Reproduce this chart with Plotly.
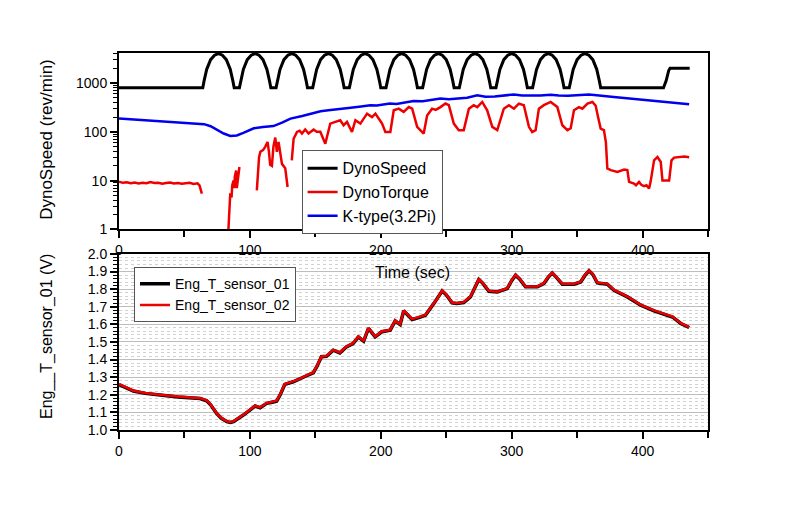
import plotly.graph_objects as go

# ---------------- data ----------------
speed_t = [0,
           64, 65, 67, 70, 73, 76, 79, 82, 85, 87, 88,
           92, 93, 95, 98, 101, 104, 107, 110, 113, 115, 116,
           120, 121, 123, 126, 129, 132, 135, 138, 141, 143, 144,
           148, 149, 151, 154, 157, 160, 163, 166, 169, 171, 172,
           176, 177, 179, 182, 185, 188, 191, 194, 197, 199, 200,
           204, 205, 207, 210, 213, 216, 219, 222, 225, 227, 228,
           232, 233, 235, 238, 241, 244, 247, 250, 253, 255, 256,
           260, 261, 263, 266, 269, 272, 275, 278, 281, 283, 284,
           288, 289, 291, 294, 297, 300, 303, 306, 309, 311, 312,
           316, 317, 319, 322, 325, 328, 331, 334, 337, 339, 340,
           344, 345, 347, 350, 353, 356, 359, 362, 365, 367, 368,
           416, 418, 420, 421, 436]
speed_v = [800,
           800, 1100, 1900, 3000, 3700, 4000, 3700, 3000, 1900, 1100, 800,
           800, 1100, 1900, 3000, 3700, 4000, 3700, 3000, 1900, 1100, 800,
           800, 1100, 1900, 3000, 3700, 4000, 3700, 3000, 1900, 1100, 800,
           800, 1100, 1900, 3000, 3700, 4000, 3700, 3000, 1900, 1100, 800,
           800, 1100, 1900, 3000, 3700, 4000, 3700, 3000, 1900, 1100, 800,
           800, 1100, 1900, 3000, 3700, 4000, 3700, 3000, 1900, 1100, 800,
           800, 1100, 1900, 3000, 3700, 4000, 3700, 3000, 1900, 1100, 800,
           800, 1100, 1900, 3000, 3700, 4000, 3700, 3000, 1900, 1100, 800,
           800, 1100, 1900, 3000, 3700, 4000, 3700, 3000, 1900, 1100, 800,
           800, 1100, 1900, 3000, 3700, 4000, 3700, 3000, 1900, 1100, 800,
           800, 1100, 1900, 3000, 3700, 4000, 3700, 3000, 1900, 1100, 800,
           800, 1100, 1800, 2000, 2000]

torque_t = [0, 3, 6, 9, 12, 15, 18, 21, 24, 27, 30, 33, 36, 39, 42, 45, 48, 51,
            54, 57, 60, 61.5, 62.5, 63.3, 64,
            83.6, 84.5, 85, 86, 86.5, 87.5, 88, 88.5, 89.5, 90, 91, 92, 93,
            105.3, 106, 107, 108, 110, 111.7, 113.5, 114.5, 115.5, 116.8, 118,
            119.4, 120.6, 121.9, 123, 124.5, 127, 128, 128.8, 130,
            132, 133.4, 136, 138, 139.8, 142.3, 144.8, 148.7, 151, 153.8, 157.6,
            161.4, 165.3, 169, 171.6, 174.2, 178, 180.6, 184.4, 187, 189.5,
            193.3, 195.9, 198.4, 201, 203.5, 207.3, 209.9, 213.7, 217.5, 221.4,
            224, 227.8, 232.8, 235.4, 239.2, 242, 245.6, 249.4, 252, 255.8,
            259.6, 263.4, 267.3, 271, 273.7, 277.5, 281.3, 285.2, 289, 291.5,
            294, 297.9, 301.7, 305.5, 309.3, 313.2, 315.7, 318.3, 320.8, 324.6,
            329.8, 334.9, 338.7, 342.6, 345.1, 347.6, 351.4, 354, 357.9, 361.7,
            364.2, 366, 368, 370.5, 372, 373.1, 375.7, 380.8, 385.9, 388.4,
            389.7, 393.5, 395, 397.3, 399, 401.2, 403, 405, 406.3, 408.8, 411.4,
            413.9, 415.2, 420.3, 422.1, 424.1, 429.2, 432, 435.6]
torque_v = [9.5, 9.0, 9.2, 8.8, 9.1, 8.7, 9.0, 8.8, 9.3, 8.9, 9.0, 8.6, 8.9, 9.1,
            8.7, 8.9, 8.6, 8.8, 9.0, 8.5, 8.8, 8.0, 6.5, 5.4, None,
            1.0, 2.5, 5.5, 4.5, 8, 10, 7, 12, 16, 7, 14, 19, None,
            6.3, 15, 30, 39, 42, 49, 62, 40, 21, 20, 50,
            76, 39, 62, 40, 22, 18, 12, 7.4, None,
            26, 72, 99, 105, 92, 111, 92, 111, 100, 100, 57,
            147, 159, 172, 136, 159, 99, 172, 147, 187, 235,
            200, 235, 187, 147, 99, 99, 275, 297, 255, 320,
            297, 126, 92, 216, 297, 280, 320, 378, 350, 147,
            108, 108, 297, 350, 320, 408, 275, 126, 108, 172,
            297, 350, 297, 378, 350, 126, 99, 108, 297, 350,
            408, 320, 136, 108, 118, 275, 320, 297, 378, 408,
            340, 200, 116, 108, 60, 17.7, 16.4, 15, 16.8, 16.4,
            9.4, 8.7, 8.0, 9.4, 8.2, 7.7, 8.0, 6.9, 10, 26, 30.5,
            24, 10, 10, 26, 29.6, 30, 31, 30]

ktype_t = [0, 10, 20, 30, 40, 50, 60, 65, 70, 75, 80, 85, 90, 95, 100, 103, 110,
           118, 125, 131, 140, 148, 154, 160, 166, 172, 177, 185, 192, 197, 202,
           207, 212, 218, 225, 232, 238, 245.6, 252, 260, 266, 273.7, 280, 287,
           294, 301.7, 308, 315, 322, 329.8, 336, 343, 350, 359, 365, 372, 378,
           390, 403.7, 415, 425, 435.6]
ktype_v = [186, 178, 170, 163, 157, 152, 147, 143, 130, 110, 92, 82, 84, 95, 108,
           118, 125, 131, 155, 186, 210, 235, 264, 275, 290, 300, 311, 330, 350,
           345, 365, 377, 370, 400, 427, 420, 445, 478, 465, 480, 500, 560, 520,
           530, 545, 580, 550, 545, 555, 574, 550, 545, 560, 580, 560, 545, 517,
           480, 440, 410, 390, 365]

sensor_t = [0, 5, 11, 20, 28, 36.5, 45, 52, 62, 67, 70, 74.6, 78, 82.4, 85, 87.5,
            91, 95, 100, 104, 107.8, 112.8, 117, 120.4, 123, 126.7, 133.1, 138,
            143.3, 148.4, 151, 154.7, 158.5, 163.7, 168.7, 173.7, 178.8, 182.9,
            186.9, 190.6, 195.7, 200.8, 207.2, 211, 214.8, 217.5, 223.9, 229,
            234.1, 240.5, 243.5, 246.9, 250, 254.5, 258, 263.4, 268.5, 272,
            274.9, 278, 282.6, 289, 296.6, 300, 303, 306, 310.6, 319.6, 324.6,
            328, 331, 334, 338.7, 347.6, 352.7, 356, 359.1, 362, 365.5, 373.1,
            378.2, 388.4, 398.6, 408.8, 419, 422.9, 429.2, 435.6]
sensor_01 = [1.258, 1.243, 1.221, 1.208, 1.200, 1.194, 1.188, 1.183, 1.179, 1.166,
             1.143, 1.094, 1.068, 1.047, 1.043, 1.047, 1.063, 1.085, 1.113, 1.136,
             1.126, 1.151, 1.158, 1.164, 1.198, 1.259, 1.274, 1.288, 1.308, 1.325,
             1.358, 1.416, 1.419, 1.453, 1.438, 1.472, 1.491, 1.529, 1.505, 1.577,
             1.529, 1.558, 1.567, 1.620, 1.599, 1.677, 1.628, 1.638, 1.652, 1.718,
             1.748, 1.790, 1.768, 1.722, 1.718, 1.724, 1.756, 1.808, 1.855, 1.833,
             1.788, 1.784, 1.803, 1.848, 1.879, 1.858, 1.813, 1.813, 1.832, 1.868,
             1.892, 1.868, 1.828, 1.828, 1.841, 1.878, 1.904, 1.883, 1.835, 1.828,
             1.794, 1.756, 1.709, 1.677, 1.652, 1.642, 1.605, 1.582]
sensor_02 = [1.261, 1.245, 1.223, 1.210, 1.202, 1.196, 1.190, 1.185, 1.181, 1.168,
             1.145, 1.096, 1.070, 1.049, 1.045, 1.049, 1.065, 1.087, 1.115, 1.138,
             1.128, 1.153, 1.160, 1.166, 1.200, 1.261, 1.276, 1.290, 1.310, 1.327,
             1.360, 1.418, 1.421, 1.455, 1.440, 1.474, 1.493, 1.531, 1.507, 1.579,
             1.531, 1.560, 1.569, 1.622, 1.601, 1.679, 1.630, 1.640, 1.654, 1.720,
             1.750, 1.792, 1.770, 1.724, 1.720, 1.726, 1.758, 1.810, 1.857, 1.835,
             1.790, 1.786, 1.805, 1.850, 1.881, 1.860, 1.815, 1.815, 1.834, 1.870,
             1.894, 1.870, 1.830, 1.830, 1.843, 1.880, 1.906, 1.885, 1.837, 1.830,
             1.796, 1.758, 1.711, 1.679, 1.654, 1.644, 1.607, 1.584]

x_tick_vals = [0, 100, 200, 300, 400]
y1_tick_vals = [1, 10, 100, 1000]
y1_tick_text = ["1", "10", "100", "1000"]
y1_minor_vals = [2, 3, 4, 5, 6, 7, 8, 9,
                 20, 30, 40, 50, 60, 70, 80, 90,
                 200, 300, 400, 500, 600, 700, 800, 900,
                 2000, 3000, 4000]

# ---------------- figure ----------------
FONT = "Liberation Sans, Arial, sans-serif"
fig = go.Figure()

fig.add_trace(go.Scatter(x=speed_t, y=speed_v, name="DynoSpeed", mode="lines",
                         line=dict(color="#000000", width=3), xaxis="x", yaxis="y",
                         legend="legend"))
fig.add_trace(go.Scatter(x=torque_t, y=torque_v, name="DynoTorque", mode="lines",
                         line=dict(color="#ee0000", width=2.5), connectgaps=False,
                         xaxis="x", yaxis="y", legend="legend"))
fig.add_trace(go.Scatter(x=ktype_t, y=ktype_v, name="K-type(3.2Pi)", mode="lines",
                         line=dict(color="#0000ee", width=2.5), xaxis="x", yaxis="y",
                         legend="legend"))

fig.add_trace(go.Scatter(x=sensor_t, y=sensor_01, name="Eng_T_sensor_01", mode="lines",
                         line=dict(color="#000000", width=3.5), xaxis="x2", yaxis="y2",
                         legend="legend2"))
fig.add_trace(go.Scatter(x=sensor_t, y=sensor_02, name="Eng_T_sensor_02", mode="lines",
                         line=dict(color="#ee0000", width=2.5), xaxis="x2", yaxis="y2",
                         legend="legend2"))

axis_common = dict(showline=True, linecolor="black", linewidth=2, mirror=True,
                   ticks="outside", tickcolor="black", tickwidth=1.5,
                   tickfont=dict(family=FONT, size=14, color="black"),
                   zeroline=False)

fig.update_layout(
    width=786, height=507,
    # the page body adds an 8px offset, so margins are shifted to compensate
    margin=dict(l=111, r=86, t=45, b=85),
    paper_bgcolor="white", plot_bgcolor="white",
    font=dict(family=FONT, color="black"),
    xaxis=dict(**axis_common, domain=[0, 1], anchor="y", range=[0, 450],
               tickvals=x_tick_vals, ticklen=7, showgrid=False,
               minor=dict(dtick=50, tick0=0, ticks="outside", ticklen=6,
                          tickcolor="black", tickwidth=1.5, showgrid=False)),
    yaxis=dict(**axis_common, domain=[0.532, 1], anchor="x", type="log",
               range=[0, 3.613], tickvals=y1_tick_vals, ticktext=y1_tick_text,
               ticklen=7, showgrid=False,
               minor=dict(tickmode="array", tickvals=y1_minor_vals,
                          ticks="outside", ticklen=4, tickcolor="black",
                          tickwidth=1, showgrid=False)),
    xaxis2=dict(**axis_common, domain=[0, 1], anchor="y2", range=[0, 450],
                tickvals=x_tick_vals, ticklen=7, showgrid=False,
                minor=dict(dtick=50, tick0=0, ticks="outside", ticklen=6,
                           tickcolor="black", tickwidth=1.5, showgrid=False)),
    yaxis2=dict(**axis_common, domain=[0, 0.467], anchor="x2", range=[1.0, 2.0],
                dtick=0.1, tick0=1.0, tickformat=".1f", ticklen=7,
                showgrid=True, gridcolor="#bdbdbd", gridwidth=1,
                minor=dict(dtick=0.02, ticks="outside", ticklen=4, tickcolor="black",
                           tickwidth=1, showgrid=True, gridcolor="#d0d0d0",
                           griddash="dot", gridwidth=1)),
    xaxis3=dict(overlaying="x", anchor="y", side="top", range=[0, 450],
                tickvals=x_tick_vals, ticks="inside", ticklen=6, tickwidth=1.5,
                tickcolor="black", showticklabels=False, showgrid=False,
                showline=False, zeroline=False),
    xaxis4=dict(overlaying="x2", anchor="y2", side="top", range=[0, 450],
                tickvals=x_tick_vals, ticks="inside", ticklen=6, tickwidth=1.5,
                tickcolor="black", showticklabels=False, showgrid=False,
                showline=False, zeroline=False),
    legend=dict(x=0.31, y=0.742, xanchor="left", yanchor="top",
                bgcolor="white", bordercolor="#555555", borderwidth=1,
                font=dict(family=FONT, size=16, color="black"),
                tracegroupgap=0, itemwidth=30),
    legend2=dict(x=0.0255, y=0.432, xanchor="left", yanchor="top",
                 bgcolor="white", bordercolor="#555555", borderwidth=1,
                 font=dict(family=FONT, size=14, color="black"),
                 tracegroupgap=0, itemwidth=30),
    showlegend=True,
    annotations=[
        dict(text="DynoSpeed (rev/min)", xref="paper", yref="paper",
             x=-0.122, y=0.77, xanchor="center", yanchor="middle",
             textangle=-90, showarrow=False,
             font=dict(family=FONT, size=17, color="black")),
        dict(text="Eng__T_sensor_01 (V)", xref="paper", yref="paper",
             x=-0.122, y=0.247, xanchor="center", yanchor="middle",
             textangle=-90, showarrow=False,
             font=dict(family=FONT, size=16, color="black")),
        dict(text="Time (sec)", xref="paper", yref="paper",
             x=0.499, y=0.4166, xanchor="center", yanchor="middle",
             showarrow=False, font=dict(family=FONT, size=16, color="black")),
    ],
)

fig.write_html("out.html")
